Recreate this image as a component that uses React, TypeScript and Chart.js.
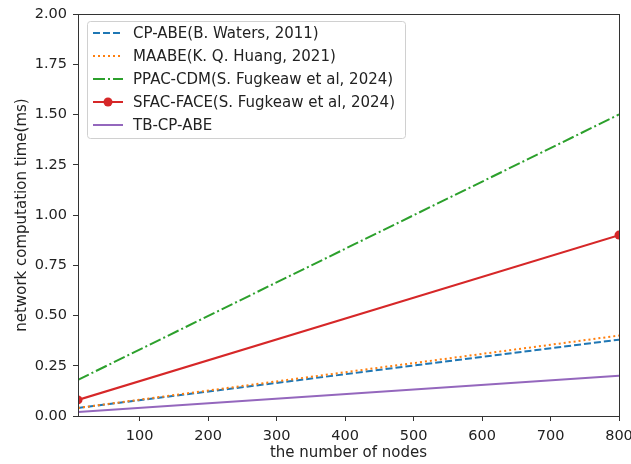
import React, { useEffect, useRef } from "react";
import { Chart, registerables } from "chart.js";

Chart.register(...registerables);

const nodes = [10, 800];
const cpAbe = [0.04, 0.38];
const maabe = [0.04, 0.4];
const ppacCdm = [0.18, 1.5];
const sfacFace = [0.08, 0.9];
const tbCpAbe = [0.02, 0.2];

const seriesLabels = [
  "CP-ABE(B. Waters, 2011)",
  "MAABE(K. Q. Huang, 2021)",
  "PPAC-CDM(S. Fugkeaw et al, 2024)",
  "SFAC-FACE(S. Fugkeaw et al, 2024)",
  "TB-CP-ABE",
];
const xTicks = [100, 200, 300, 400, 500, 600, 700, 800];
const yTicks = [0, 0.25, 0.5, 0.75, 1.0, 1.25, 1.5, 1.75, 2.0];

const FONT = "'DejaVu Sans', sans-serif";
const TEXT = "#222";

const toPoints = (ys: number[]) => ys.map((y, i) => ({ x: nodes[i], y }));

const framePlugin = {
  id: "frame",
  afterDatasetsDraw(chart: any) {
    const { ctx, chartArea } = chart;
    ctx.save();
    ctx.strokeStyle = "#333";
    ctx.lineWidth = 1;
    ctx.setLineDash([]);
    ctx.strokeRect(
      Math.round(chartArea.left) + 0.5,
      Math.round(chartArea.top) + 0.5,
      Math.round(chartArea.right - chartArea.left),
      Math.round(chartArea.bottom - chartArea.top)
    );
    ctx.restore();
  },
};

const legendPlugin = {
  id: "boxLegend",
  afterDraw(chart: any) {
    const { ctx, chartArea } = chart;
    const x0 = chartArea.left + 9;
    const y0 = chartArea.top + 7;
    const w = 318;
    const h = 117;
    ctx.save();
    ctx.setLineDash([]);
    ctx.fillStyle = "rgba(255,255,255,0.85)";
    ctx.strokeStyle = "#d0d0d0";
    ctx.lineWidth = 1;
    ctx.beginPath();
    (ctx as any).roundRect(x0 + 0.5, y0 + 0.5, w, h, 3);
    ctx.fill();
    ctx.stroke();
    ctx.font = `15px ${FONT}`;
    ctx.textBaseline = "middle";
    ctx.textAlign = "left";
    chart.data.datasets.forEach((ds: any, i: number) => {
      const y = y0 + 12 + i * 23;
      ctx.strokeStyle = ds.borderColor;
      ctx.lineWidth = ds.borderWidth;
      ctx.setLineDash(ds.borderDash || []);
      ctx.beginPath();
      ctx.moveTo(x0 + 6, y);
      ctx.lineTo(x0 + 36, y);
      ctx.stroke();
      ctx.setLineDash([]);
      if (ds.pointRadius > 0) {
        ctx.fillStyle = ds.borderColor;
        ctx.beginPath();
        ctx.arc(x0 + 21, y, ds.pointRadius, 0, Math.PI * 2);
        ctx.fill();
      }
      ctx.fillStyle = TEXT;
      ctx.fillText(ds.label, x0 + 46, y + 1);
    });
    ctx.restore();
  },
};

export default function App() {
  const ref = useRef<HTMLCanvasElement | null>(null);

  useEffect(() => {
    if (!ref.current) return;
    const mk = (i: number, data: number[], color: string, dash: number[], radius = 0) => ({
      label: seriesLabels[i],
      data: toPoints(data),
      borderColor: color,
      backgroundColor: color,
      borderWidth: 2,
      borderDash: dash,
      pointRadius: radius,
      pointHoverRadius: radius,
      pointBorderWidth: 0,
      fill: false,
      tension: 0,
      clip: 0,
      order: 5 - i,
    });
    const chart = new Chart(ref.current, {
      type: "line",
      data: {
        datasets: [
          mk(0, cpAbe, "#1f77b4", [7, 3]),
          mk(1, maabe, "#ff7f0e", [2, 3]),
          mk(2, ppacCdm, "#2ca02c", [12, 3, 2, 3]),
          mk(3, sfacFace, "#d62728", [], 4.5),
          mk(4, tbCpAbe, "#9467bd", []),
        ] as any,
      },
      options: {
        responsive: false,
        animation: false,
        layout: { padding: { left: 0, right: 12, top: 14, bottom: 0 } },
        plugins: {
          legend: { display: false },
          tooltip: { enabled: false },
        },
        scales: {
          x: {
            type: "linear",
            min: nodes[0],
            max: nodes[nodes.length - 1],
            afterBuildTicks: (scale: any) => {
              scale.ticks = xTicks.map((v) => ({ value: v }));
            },
            afterFit: (scale: any) => {
              scale.height = 48;
              scale.paddingLeft = 0;
              scale.paddingRight = 0;
            },
            grid: {
              display: true,
              drawOnChartArea: false,
              drawTicks: true,
              tickLength: 5,
              color: "#333",
            },
            border: { display: false },
            ticks: {
              color: TEXT,
              font: { family: FONT, size: 14.5 },
              padding: 7,
              maxRotation: 0,
              autoSkip: false,
            },
            title: {
              display: true,
              text: "the number of nodes",
              color: TEXT,
              font: { family: FONT, size: 15 },
              padding: { top: 0, bottom: 2 },
            },
          },
          y: {
            type: "linear",
            min: 0,
            max: 2,
            afterBuildTicks: (scale: any) => {
              scale.ticks = yTicks.map((v) => ({ value: v }));
            },
            afterFit: (scale: any) => {
              scale.width = 78;
              scale.paddingTop = 0;
              scale.paddingBottom = 0;
            },
            grid: {
              display: true,
              drawOnChartArea: false,
              drawTicks: true,
              tickLength: 5,
              color: "#333",
            },
            border: { display: false },
            ticks: {
              color: TEXT,
              font: { family: FONT, size: 14.5 },
              padding: 6,
              autoSkip: false,
              callback: (v: any) => Number(v).toFixed(2),
            },
            title: {
              display: true,
              text: "network computation time(ms)",
              color: TEXT,
              font: { family: FONT, size: 15 },
              padding: { top: 13, bottom: 0 },
            },
          },
        },
      },
      plugins: [framePlugin, legendPlugin],
    });
    return () => chart.destroy();
  }, []);

  return (
    <div style={{ position: "fixed", left: 0, top: 0, width: 631, height: 464, background: "#fff" }}>
      <canvas ref={ref} width={631} height={464} style={{ display: "block" }} />
    </div>
  );
}
